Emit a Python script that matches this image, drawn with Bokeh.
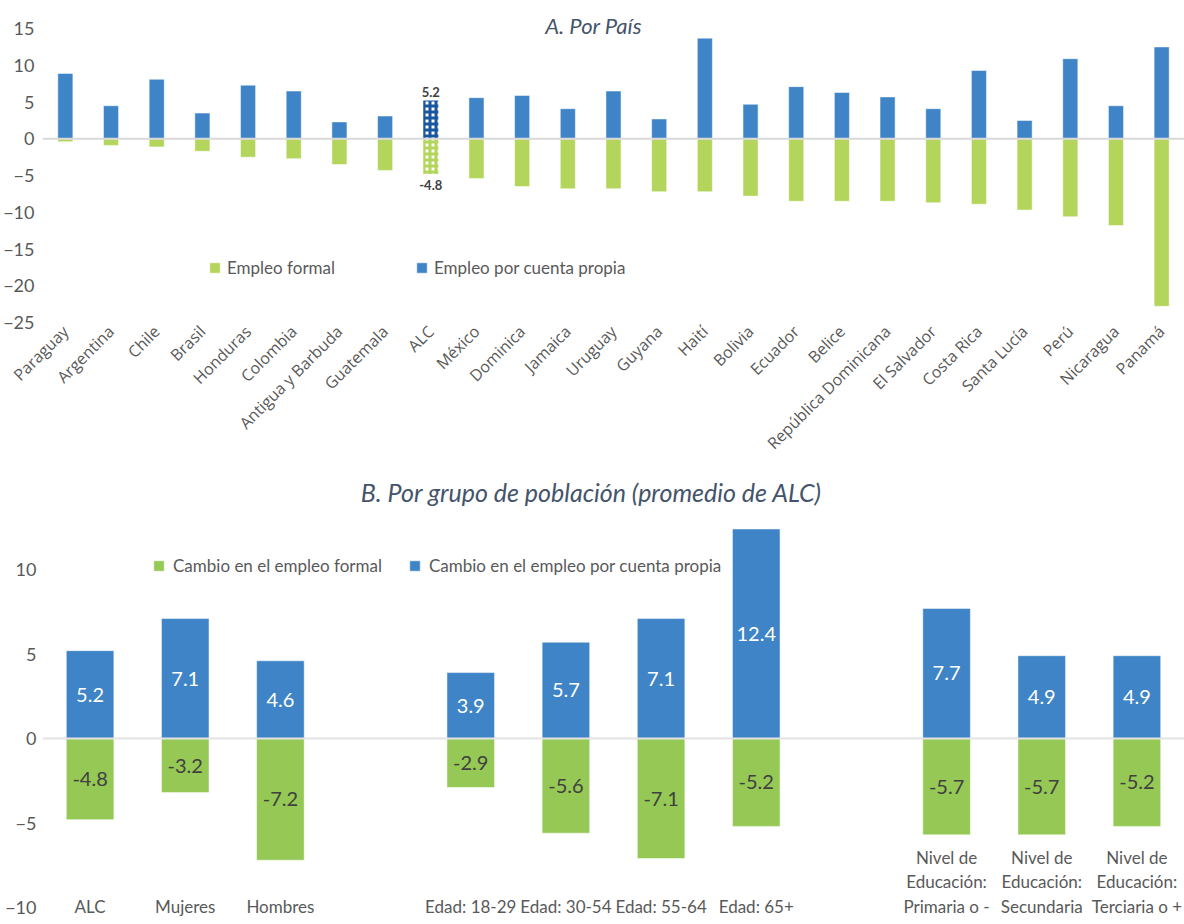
import math
from bokeh.plotting import figure
from bokeh.models import (ColumnDataSource, FactorRange, Range1d, Span, Label,
                          Legend, LegendItem, FixedTicker, CDSView, IndexFilter)
from bokeh.layouts import column
from bokeh.embed import file_html
from bokeh.resources import INLINE
from bokeh.core.properties import value

# ---------------- Data: A. Por País ----------------
countries = ["Paraguay", "Argentina", "Chile", "Brasil", "Honduras", "Colombia",
             "Antigua y Barbuda", "Guatemala", "ALC", "México", "Dominica", "Jamaica",
             "Uruguay", "Guyana", "Haití", "Bolivia", "Ecuador", "Belice",
             "República Dominicana", "El Salvador", "Costa Rica", "Santa Lucía",
             "Perú", "Nicaragua", "Panamá"]
cuenta_propia = [8.9, 4.5, 8.1, 3.5, 7.3, 6.5, 2.3, 3.1, 5.2, 5.6, 5.9, 4.1, 6.5,
                 2.7, 13.7, 4.7, 7.1, 6.3, 5.7, 4.1, 9.3, 2.5, 10.9, 4.5, 12.5]
formal = [-0.4, -0.9, -1.1, -1.7, -2.5, -2.7, -3.5, -4.3, -4.8, -5.4, -6.5, -6.8,
          -6.8, -7.2, -7.2, -7.8, -8.5, -8.5, -8.5, -8.7, -8.9, -9.7, -10.6, -11.8, -22.8]
top_ticks = [15, 10, 5, 0, -5, -10, -15, -20, -25]
highlight = "ALC"

# ---------------- Data: B. Por grupo de población ----------------
slots = ["ALC", "Mujeres", "Hombres", "gap1", "Edad: 18-29", "Edad: 30-54",
         "Edad: 55-64", "Edad: 65+", "gap2", "Primaria", "Secundaria", "Terciaria"]
groups = ["ALC", "Mujeres", "Hombres", "Edad: 18-29", "Edad: 30-54", "Edad: 55-64",
          "Edad: 65+", "Primaria", "Secundaria", "Terciaria"]
group_labels = ["ALC", "Mujeres", "Hombres", "Edad: 18-29", "Edad: 30-54",
                "Edad: 55-64", "Edad: 65+",
                "Nivel de\nEducación:\nPrimaria o -",
                "Nivel de\nEducación:\nSecundaria",
                "Nivel de\nEducación:\nTerciaria o +"]
cambio_propia = [5.2, 7.1, 4.6, 3.9, 5.7, 7.1, 12.4, 7.7, 4.9, 4.9]
cambio_formal = [-4.8, -3.2, -7.2, -2.9, -5.6, -7.1, -5.2, -5.7, -5.7, -5.2]
bottom_ticks = [10, 5, 0, -5, -10]

BLUE = "#3E84C6"
GREEN_A = "#B3D55B"
GREEN_B = "#95C855"
TXT = "#595959"
TITLE = "#44546A"
FONT = "Lato"

# ================= Top figure =================
p1 = figure(x_range=FactorRange(factors=countries), y_range=Range1d(-25.27, 17.46),
            width=1184, height=469, output_backend="svg", toolbar_location=None,
            min_border_top=10, min_border_bottom=145, min_border_left=39,
            min_border_right=0)
p1.outline_line_color = None
p1.grid.visible = False

src1 = ColumnDataSource(dict(c=countries, propia=cuenta_propia, formal=formal))
normal_idx = [i for i, c in enumerate(countries) if c != highlight]
hl_idx = [i for i, c in enumerate(countries) if c == highlight]
v_norm = CDSView(filter=IndexFilter(normal_idx))
v_hl = CDSView(filter=IndexFilter(hl_idx))

rg = p1.vbar(x="c", top="formal", bottom=0, width=0.33, source=src1, view=v_norm,
             fill_color=GREEN_A, line_color="white", line_alpha=0.5, line_width=1)
rb = p1.vbar(x="c", top="propia", bottom=0, width=0.33, source=src1, view=v_norm,
             fill_color=BLUE, line_color="white", line_alpha=0.5, line_width=1)
p1.vbar(x="c", top="propia", bottom=0, width=0.33, source=src1, view=v_hl,
        fill_color="white", line_color=None, hatch_pattern="cross",
        hatch_color="#1A56A0", hatch_scale=6, hatch_weight=3)
p1.vbar(x="c", top="formal", bottom=0, width=0.33, source=src1, view=v_hl,
        fill_color="white", line_color=None, hatch_pattern="cross",
        hatch_color=GREEN_A, hatch_scale=6, hatch_weight=3)
p1.text(x="c", y="propia", text="propia", source=src1, view=v_hl,
        text_font=value(FONT), text_font_size="13px", text_font_style="bold",
        text_color="#404040", text_align="center", text_baseline="bottom", y_offset=-4)
p1.text(x="c", y="formal", text="formal", source=src1, view=v_hl,
        text_font=value(FONT), text_font_size="13px", text_font_style="bold",
        text_color="#404040", text_align="center", text_baseline="top", y_offset=6)

p1.add_layout(Span(location=0, dimension="width", line_color="#D9D9D9", line_width=2))

p1.yaxis.ticker = FixedTicker(ticks=top_ticks)
p1.yaxis.axis_line_color = None
p1.yaxis.major_tick_line_color = None
p1.yaxis.minor_tick_line_color = None
p1.yaxis.major_tick_out = 0
p1.yaxis.major_tick_in = 0
p1.yaxis.major_label_text_font = FONT
p1.yaxis.major_label_text_font_size = "18px"
p1.yaxis.major_label_text_color = TXT
p1.yaxis.major_label_standoff = 8

p1.xaxis.axis_line_color = None
p1.xaxis.major_tick_line_color = None
p1.xaxis.minor_tick_line_color = None
p1.xaxis.major_tick_out = 0
p1.xaxis.major_tick_in = 0
p1.xaxis.major_label_orientation = math.pi / 4
p1.xaxis.major_label_text_font = "Open Sans"
p1.xaxis.major_label_text_font_size = "16px"
p1.xaxis.major_label_text_color = TXT
p1.xaxis.major_label_standoff = 4

leg1 = Legend(items=[LegendItem(label="Empleo formal", renderers=[rg]),
                     LegendItem(label="Empleo por cuenta propia", renderers=[rb])],
              orientation="horizontal", location=(166, 46), spacing=80,
              padding=0, margin=0, glyph_width=13, glyph_height=13, label_standoff=6,
              label_text_font=FONT, label_text_font_size="17px", label_text_color=TXT,
              border_line_color=None, background_fill_alpha=0)
p1.add_layout(leg1)

p1.add_layout(Label(x=551, y=299, x_units="screen", y_units="screen", text="A. Por País",
                    text_font=FONT, text_font_size="22px", text_font_style="italic",
                    text_color=TITLE, text_align="center", text_baseline="middle"))

# ================= Bottom figure =================
p2 = figure(x_range=FactorRange(factors=slots), y_range=Range1d(-10.65, 15.92),
            width=1184, height=449, output_backend="svg", toolbar_location=None,
            min_border_top=0, min_border_bottom=0, min_border_left=41,
            min_border_right=0)
p2.outline_line_color = None
p2.grid.visible = False
p2.xaxis.visible = False

src2 = ColumnDataSource(dict(
    g=groups, propia=cambio_propia, formal=cambio_formal,
    propia_mid=[v / 2 for v in cambio_propia], formal_mid=[v / 2 for v in cambio_formal],
    propia_txt=[f"{v:.1f}" for v in cambio_propia],
    formal_txt=[f"{v:.1f}" for v in cambio_formal],
    lab=group_labels, lab_y=[bottom_ticks[-1]] * len(groups)))

rg2 = p2.vbar(x="g", top="formal", bottom=0, width=0.5, source=src2,
              fill_color=GREEN_B, line_color="white", line_alpha=0.5, line_width=1)
rb2 = p2.vbar(x="g", top="propia", bottom=0, width=0.5, source=src2,
              fill_color=BLUE, line_color="white", line_alpha=0.5, line_width=1)
p2.add_layout(Span(location=0, dimension="width", line_color="#E3E3E3", line_width=2))

p2.text(x="g", y="propia_mid", text="propia_txt", source=src2, text_font=value(FONT),
        text_font_size="20px", text_color="white", text_align="center",
        text_baseline="middle")
p2.text(x="g", y="formal_mid", text="formal_txt", source=src2, text_font=value(FONT),
        text_font_size="20px", text_color="#404040", text_align="center",
        text_baseline="middle")
p2.text(x="g", y="lab_y", text="lab", source=src2, text_font=value(FONT),
        text_font_size="17px", text_color=TXT, text_align="center",
        text_baseline="bottom", y_offset=9, text_line_height=1.15)

p2.yaxis.ticker = FixedTicker(ticks=bottom_ticks)
p2.yaxis.axis_line_color = None
p2.yaxis.major_tick_line_color = None
p2.yaxis.minor_tick_line_color = None
p2.yaxis.major_tick_out = 0
p2.yaxis.major_tick_in = 0
p2.yaxis.major_label_text_font = FONT
p2.yaxis.major_label_text_font_size = "18px"
p2.yaxis.major_label_text_color = TXT
p2.yaxis.major_label_standoff = 6

leg2 = Legend(items=[LegendItem(label="Cambio en el empleo formal", renderers=[rg2]),
                     LegendItem(label="Cambio en el empleo por cuenta propia", renderers=[rb2])],
              orientation="horizontal", location=(110, 342), spacing=26,
              padding=0, margin=0, glyph_width=13, glyph_height=13, label_standoff=8,
              label_text_font=FONT, label_text_font_size="17px", label_text_color=TXT,
              border_line_color=None, background_fill_alpha=0)
p2.add_layout(leg2)

p2.add_layout(Label(x=549, y=427, x_units="screen", y_units="screen",
                    text="B. Por grupo de población (promedio de ALC)",
                    text_font=FONT, text_font_size="25px", text_font_style="italic",
                    text_color=TITLE, text_align="center", text_baseline="middle"))

layout = column(p1, p2, spacing=0)
open("out.html", "w").write(file_html(layout, INLINE))
